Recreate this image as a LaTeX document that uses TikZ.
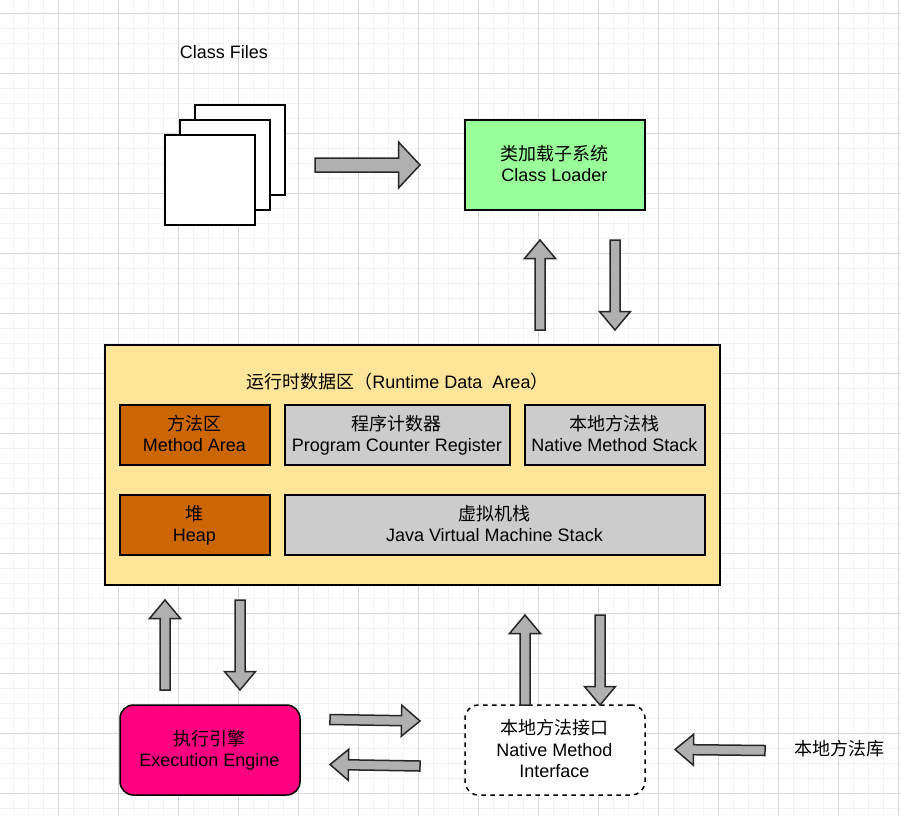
\documentclass[tikz,border=0pt]{standalone}
\usepackage{fontspec}
\setmainfont{Liberation Sans}
\newfontfamily\cjk{Noto Sans CJK SC}
\usetikzlibrary{calc}
\definecolor{gridmajor}{HTML}{D8D8D8}
\definecolor{gridminor}{HTML}{F3F3F3}
\definecolor{arrowgrey}{HTML}{B0B0B0}
\definecolor{boxgrey}{HTML}{CCCCCC}
\definecolor{loadergreen}{HTML}{99FF99}
\definecolor{areayellow}{HTML}{FFE599}
\definecolor{areaorange}{HTML}{CC6600}
\definecolor{enginepink}{HTML}{FF0080}
\tikzset{
  every node/.style={font=\fontsize{18}{21.5}\selectfont, align=center, inner sep=0pt, outer sep=0pt},
  box/.style={draw=black, line width=1.5pt, minimum width=#1, minimum height=60pt},
  box/.default=150pt,
  txt/.style={label={[xshift=-.6pt,yshift=-.4pt]center:{#1\vphantom{g}}}},
  page/.style={draw=black, fill=white, line width=1.5pt, minimum width=90pt, minimum height=90pt},
  blockarrow/.style={draw=black!85, fill=arrowgrey, line width=1.5pt, line join=miter},
}
% #1 tail, #2 tip, #3 body half width, #4 head half width, #5 head length
\newcommand{\blockarr}[5]{%
  \coordinate (hb) at ($(#2)!#5pt!(#1)$);
  \draw[blockarrow]
    ($(#1)!#3pt!90:(#2)$) -- ($(hb)!#3pt!-90:(#1)$) -- ($(hb)!#4pt!-90:(#1)$) --
    (#2) -- ($(hb)!#4pt!90:(#1)$) -- ($(hb)!#3pt!90:(#1)$) -- ($(#1)!#3pt!-90:(#2)$) -- cycle;
}
\begin{document}
\begin{tikzpicture}[x=1pt,y=-1pt]
\useasboundingbox (0,0) rectangle (901,816);
\fill[white] (0,0) rectangle (901,816);
% grid
\foreach \x in {-2,13,...,900} \draw[gridminor,line width=1pt] (\x+.5,0) -- (\x+.5,816);
\foreach \y in {-2,13,...,815} \draw[gridminor,line width=1pt] (0,\y+.5) -- (901,\y+.5);
\foreach \x in {58,118,...,900} \draw[gridmajor,line width=1pt] (\x+.5,0) -- (\x+.5,816);
\foreach \y in {13,73,...,815} \draw[gridmajor,line width=1pt] (0,\y+.5) -- (901,\y+.5);
% class files
\node (cf) at (224,52.5) {Class Files};
\node[page] (p3) at (240,150) {};
\node[page] (p2) at (225,165) {};
\node[page] (p1) at (210,180) {};
% class loader
\node[box=180pt, minimum height=90pt, fill=loadergreen, txt={{\cjk 类加载子系统}\\Class Loader}] (loader) at (555,165) {};
% runtime area
\node[box=615pt, minimum height=240pt, fill=areayellow] (area) at (412.5,465) {};
\node (areatitle) at (397.5,382) {{\cjk 运行时数据区（}Runtime Data\ \ Area{\cjk ）}};
\node[box, fill=areaorange, txt={{\cjk 方法区}\\Method Area}] (method) at (195,435) {};
\node[box=225pt, fill=boxgrey, txt={{\cjk 程序计数器}\\Program Counter Register}] (pc) at (397.5,435) {};
\node[box=180pt, fill=boxgrey, txt={{\cjk 本地方法栈}\\Native Method Stack}] (nms) at (615,435) {};
\node[box, fill=areaorange, txt={{\cjk 堆}\\Heap}] (heap) at (195,525) {};
\node[box=420pt, fill=boxgrey, txt={{\cjk 虚拟机栈}\\Java Virtual Machine Stack}] (jvm) at (495,525) {};
% engine, interface, library
\node[box=180pt, minimum height=90pt, fill=enginepink, rounded corners=13.5pt, txt={{\cjk 执行引擎}\\Execution Engine}] (engine) at (210,750) {};
\node[box=180pt, minimum height=90pt, fill=white, rounded corners=13.5pt, dash pattern=on 4.5pt off 4.5pt, txt={{\cjk 本地方法接口}\\Native Method\\Interface}] (nmi) at (555,750) {};
\node (lib) at (839,749) {\cjk 本地方法库};
% arrow end points
\coordinate (a1) at (315,165); \coordinate (b1) at (420,165);
\coordinate (a2) at (540,330); \coordinate (b2) at (540,240);
\coordinate (a3) at (615,240); \coordinate (b3) at (615,330);
\coordinate (a4) at (165,690); \coordinate (b4) at (165,600);
\coordinate (a5) at (240,600); \coordinate (b5) at (240,690);
\coordinate (a6) at (525,705); \coordinate (b6) at (525,615);
\coordinate (a7) at (600,615); \coordinate (b7) at (600,705);
\coordinate (a8) at (330,719.5); \coordinate (b8) at (420,721);
\coordinate (a9) at (420,766); \coordinate (b9) at (330,764.5);
\coordinate (a10) at (765,750.5); \coordinate (b10) at (675,749.5);
\blockarr{a1}{b1}{7}{23}{21.5}
\foreach \i in {2,...,10} {\blockarr{a\i}{b\i}{5}{15.5}{18.5}}
\end{tikzpicture}
\end{document}
